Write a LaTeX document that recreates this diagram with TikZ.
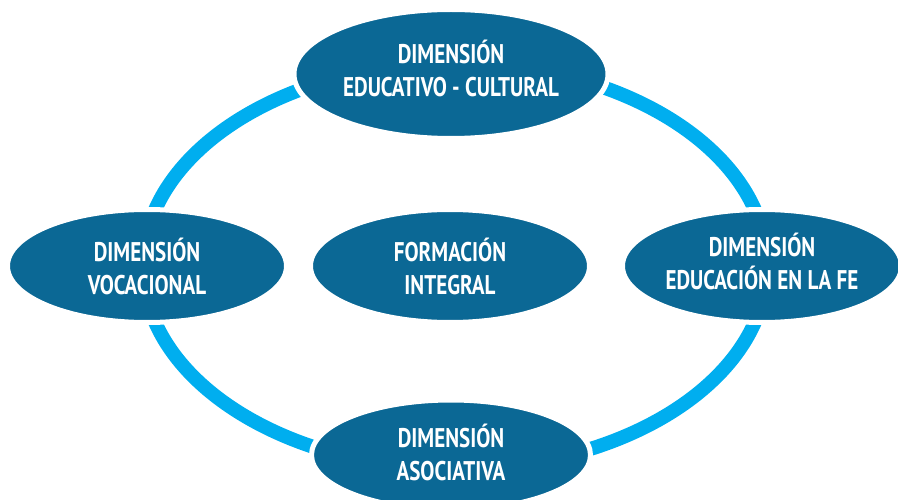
\documentclass[tikz,border=0pt]{standalone}
\usepackage{fontspec}
\setmainfont[FakeStretch=0.78]{PT Sans}
\usetikzlibrary{shapes.geometric}
\definecolor{dblue}{HTML}{0B6895}
\definecolor{ringblue}{HTML}{00AEEF}
\tikzset{
  dim/.style={ellipse, fill=dblue, draw=white, line width=5pt, inner sep=0pt},
  txt/.style={text=white, align=center, inner sep=0pt,
    font=\fontsize{27}{33}\selectfont\bfseries},
  ring/.style={draw=ringblue, line width=14pt}
}
\begin{document}
\begin{tikzpicture}[x=1pt,y=-1pt]
\useasboundingbox (0,0) rectangle (898,500);
\coordinate (ringc) at (455,266);
\draw[ring] (ringc) ellipse [x radius=312, y radius=203];
\node[dim, minimum width=314, minimum height=129,
  label={[txt, yshift=6pt]center:DIMENSIÓN\\EDUCATIVO - CULTURAL}] (top) at (451,74) {};
\node[dim, minimum width=279, minimum height=113,
  label={[txt]center:DIMENSIÓN\\VOCACIONAL}] (left) at (147,266) {};
\node[dim, minimum width=279, minimum height=113,
  label={[txt]center:FORMACIÓN\\INTEGRAL}] (mid) at (450,266) {};
\node[dim, minimum width=279, minimum height=113,
  label={[txt, yshift=5pt]center:DIMENSIÓN\\EDUCACIÓN EN LA FE}] (right) at (762,266) {};
\node[dim, minimum width=279, minimum height=110,
  label={[txt, yshift=3pt]center:DIMENSIÓN\\ASOCIATIVA}] (bottom) at (451,455) {};
\end{tikzpicture}
\end{document}
